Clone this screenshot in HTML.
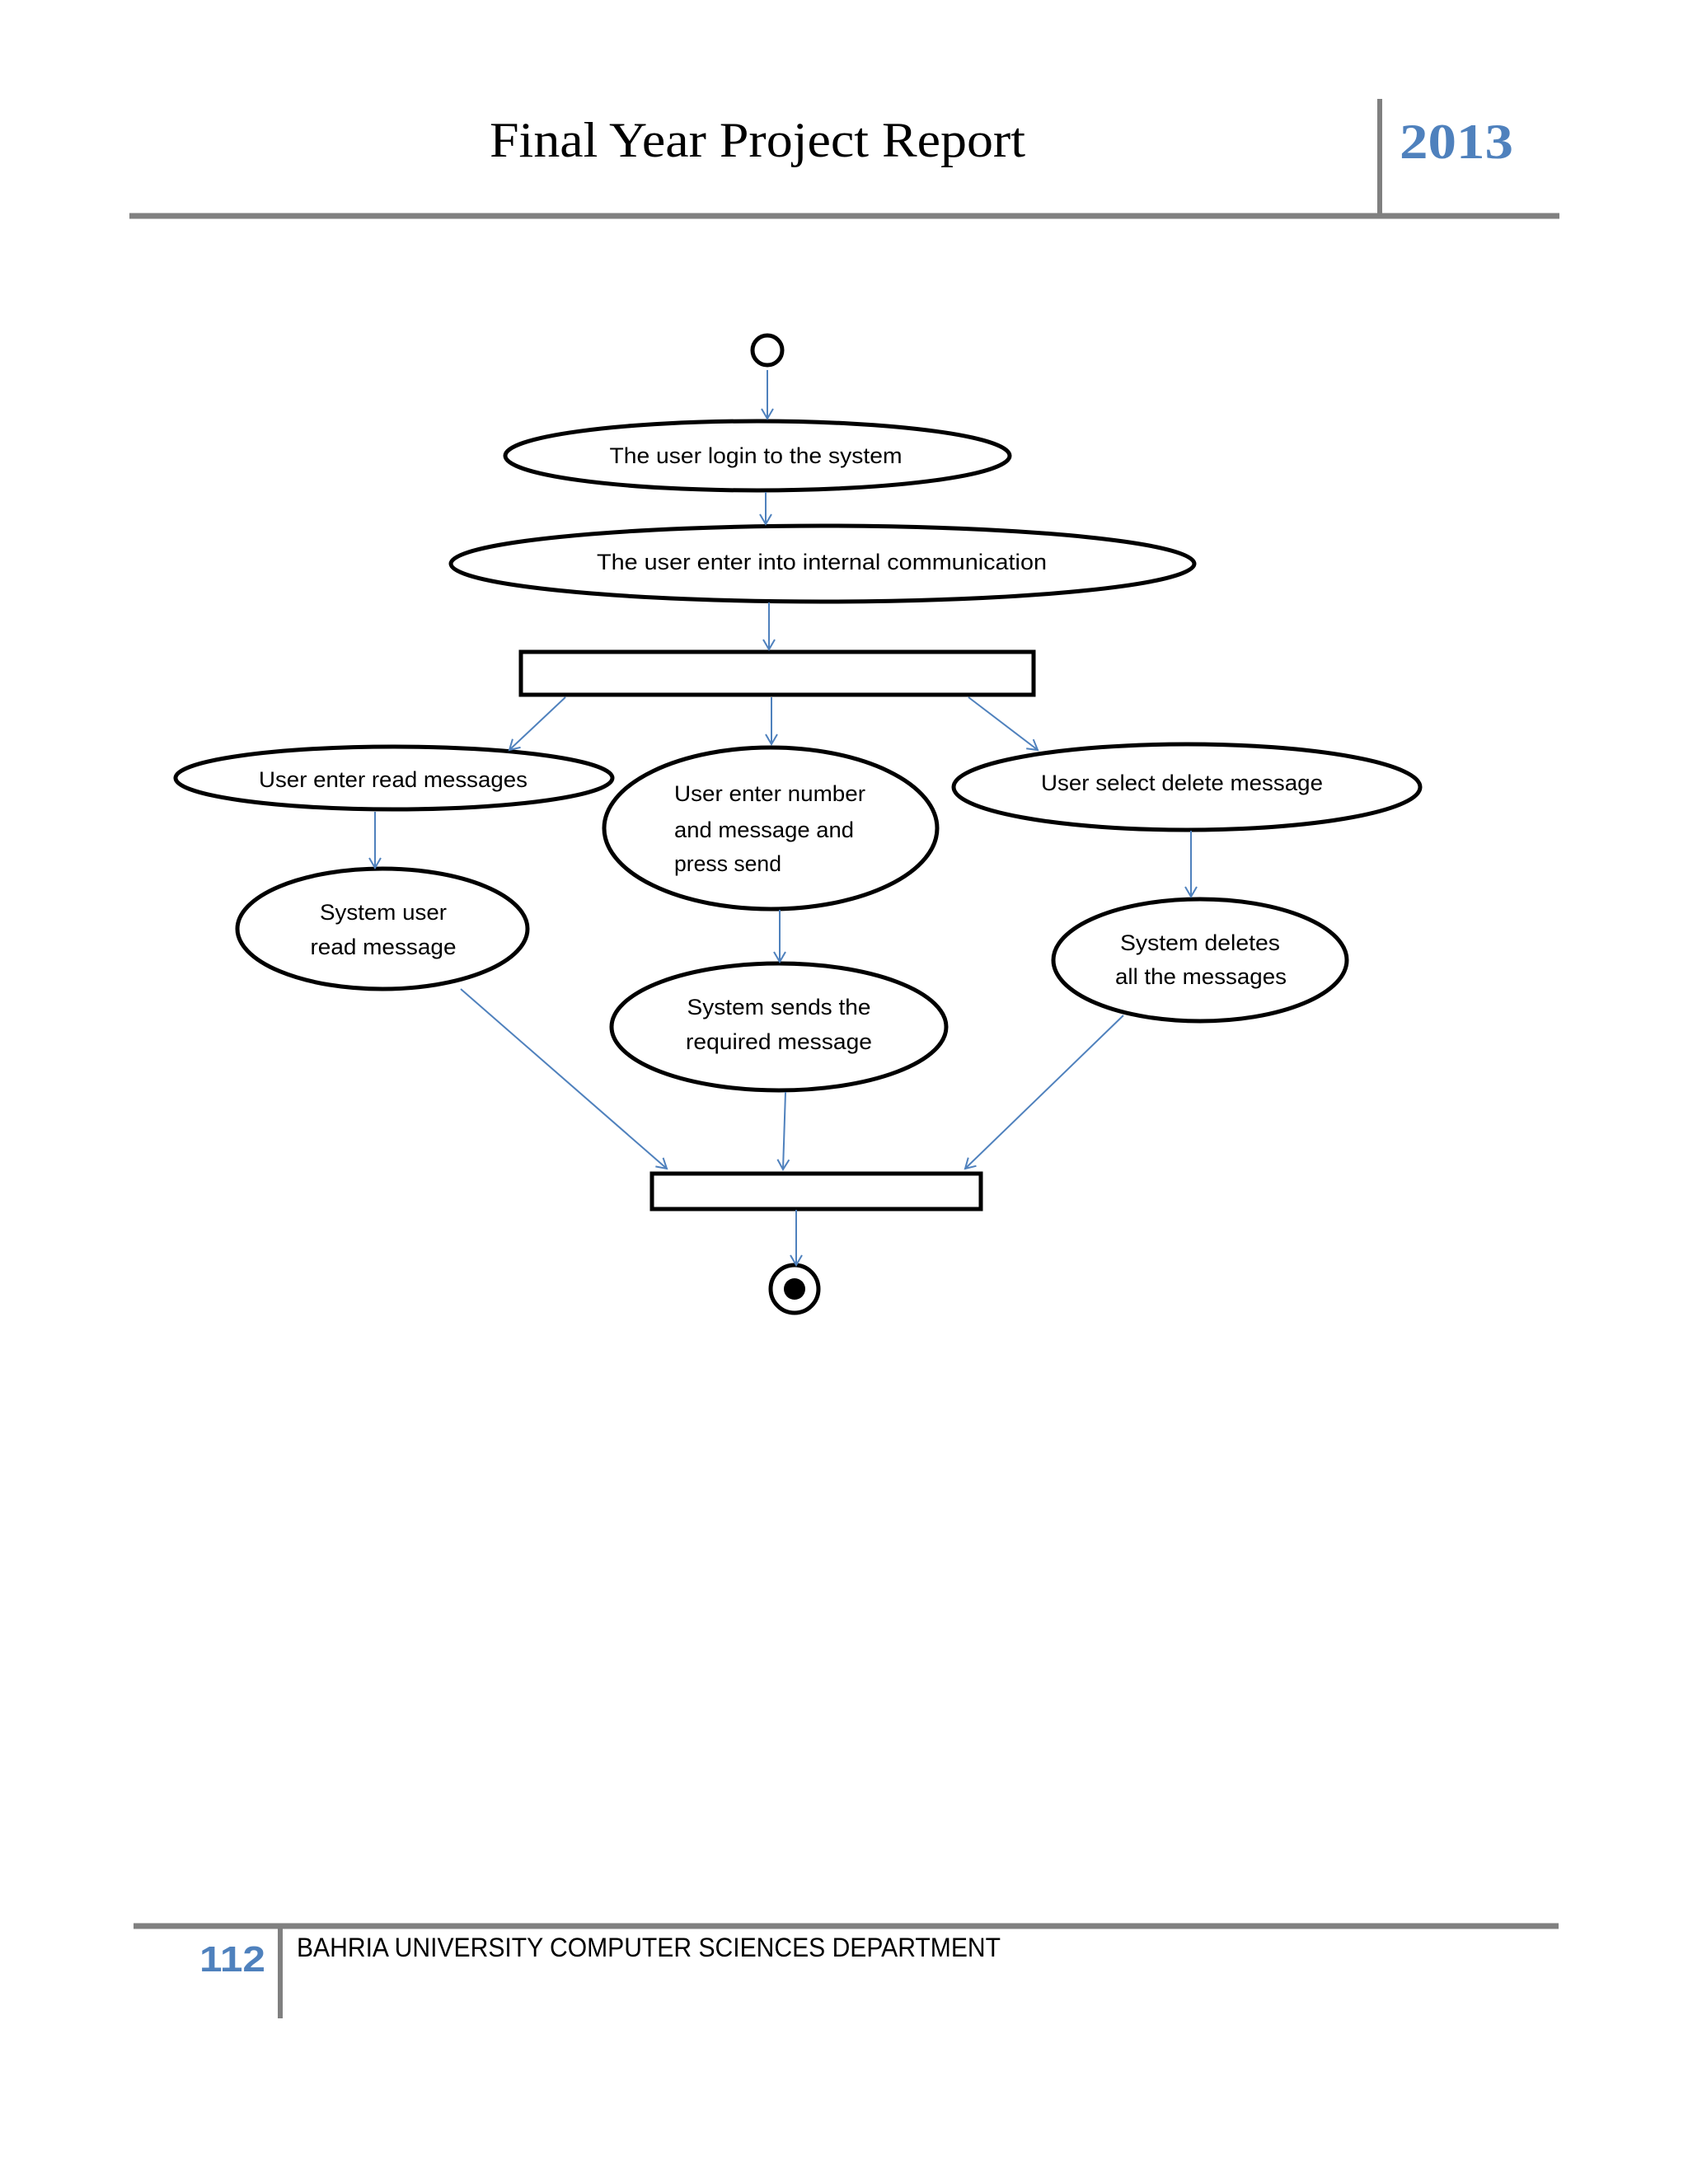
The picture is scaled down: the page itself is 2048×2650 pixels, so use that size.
<!DOCTYPE html>
<html><head><meta charset="utf-8"><style>html,body{margin:0;padding:0;background:#fff}svg{display:block}</style></head>
<body>
<svg width="2048" height="2650" viewBox="0 0 2048 2650" xmlns="http://www.w3.org/2000/svg">
<defs>
<marker id="a" markerWidth="20" markerHeight="20" refX="14" refY="8" orient="auto" markerUnits="userSpaceOnUse">
<path d="M2,1 L14,8 L2,15" fill="none" stroke="#4F81BD" stroke-width="2"/>
</marker>
</defs>
<text x="919" y="190" font-family="Liberation Serif, serif" font-size="60" text-anchor="middle" textLength="650" lengthAdjust="spacingAndGlyphs" fill="#000">Final Year Project Report</text>
<line x1="1674" y1="120" x2="1674" y2="262" stroke="#808080" stroke-width="6"/>
<text x="1698" y="192" font-family="Liberation Serif, serif" font-size="60" font-weight="bold" textLength="138" lengthAdjust="spacingAndGlyphs" fill="#4F81BD">2013</text>
<line x1="157" y1="262" x2="1892" y2="262" stroke="#808080" stroke-width="7"/>

<g fill="none" stroke="#000" stroke-width="5">
<circle cx="931" cy="425" r="18"/>
<ellipse cx="919" cy="553" rx="306" ry="42"/>
<ellipse cx="998" cy="684" rx="451" ry="46"/>
<rect x="632" y="791" width="622" height="52"/>
<ellipse cx="478" cy="944" rx="265" ry="38"/>
<ellipse cx="935" cy="1005" rx="202" ry="98"/>
<ellipse cx="1440" cy="955" rx="283" ry="52"/>
<ellipse cx="464" cy="1127" rx="176" ry="73"/>
<ellipse cx="945" cy="1246" rx="203" ry="77"/>
<ellipse cx="1456" cy="1165" rx="178" ry="74"/>
<rect x="791" y="1424" width="399" height="43"/>
<circle cx="964" cy="1564" r="29"/>
</g>
<circle cx="964" cy="1564" r="13" fill="#000"/>

<g stroke="#4F81BD" stroke-width="2" fill="none" marker-end="url(#a)">
<line x1="931" y1="449" x2="931" y2="508"/>
<line x1="929" y1="597" x2="929" y2="636"/>
<line x1="933" y1="731" x2="933" y2="788"/>
<line x1="686" y1="846" x2="618" y2="910"/>
<line x1="936" y1="846" x2="936" y2="903"/>
<line x1="1175" y1="846" x2="1259" y2="910"/>
<line x1="455" y1="985" x2="455" y2="1053"/>
<line x1="946" y1="1104" x2="946" y2="1167"/>
<line x1="1445" y1="1008" x2="1445" y2="1088"/>
<line x1="559" y1="1200" x2="809" y2="1418"/>
<line x1="953" y1="1325" x2="950" y2="1419"/>
<line x1="1363" y1="1232" x2="1171" y2="1418"/>
<line x1="966" y1="1468" x2="966" y2="1535"/>
</g>

<g font-family="Liberation Sans, sans-serif" font-size="27" fill="#000" text-anchor="middle" lengthAdjust="spacingAndGlyphs">
<text x="917" y="562" textLength="355" lengthAdjust="spacingAndGlyphs">The user login to the system</text>
<text x="997" y="691" textLength="546" lengthAdjust="spacingAndGlyphs">The user enter into internal communication</text>
<text x="477" y="955" textLength="326" lengthAdjust="spacingAndGlyphs">User enter read messages</text>
<text x="1434" y="959" textLength="342" lengthAdjust="spacingAndGlyphs">User select delete message</text>
<text x="818" y="972" text-anchor="start" textLength="232" lengthAdjust="spacingAndGlyphs">User enter number</text>
<text x="818" y="1016" text-anchor="start" textLength="218" lengthAdjust="spacingAndGlyphs">and message and</text>
<text x="818" y="1057" text-anchor="start" textLength="130" lengthAdjust="spacingAndGlyphs">press send</text>
<text x="465" y="1116" textLength="154" lengthAdjust="spacingAndGlyphs">System user</text>
<text x="465" y="1158" textLength="177" lengthAdjust="spacingAndGlyphs">read message</text>
<text x="945" y="1231" textLength="223" lengthAdjust="spacingAndGlyphs">System sends the</text>
<text x="945" y="1273" textLength="226" lengthAdjust="spacingAndGlyphs">required message</text>
<text x="1456" y="1153" textLength="194" lengthAdjust="spacingAndGlyphs">System deletes</text>
<text x="1457" y="1194" textLength="208" lengthAdjust="spacingAndGlyphs">all the messages</text>
</g>

<line x1="162" y1="2337" x2="1891" y2="2337" stroke="#808080" stroke-width="7"/>
<line x1="340" y1="2337" x2="340" y2="2449" stroke="#808080" stroke-width="6"/>
<text x="242" y="2392" font-family="Liberation Sans, sans-serif" font-size="44" font-weight="bold" fill="#4F81BD" textLength="80" lengthAdjust="spacingAndGlyphs">112</text>
<text x="360" y="2374" font-family="Liberation Sans, sans-serif" font-size="32" fill="#000" textLength="854" lengthAdjust="spacingAndGlyphs">BAHRIA UNIVERSITY COMPUTER SCIENCES DEPARTMENT</text>
</svg>
</body></html>
